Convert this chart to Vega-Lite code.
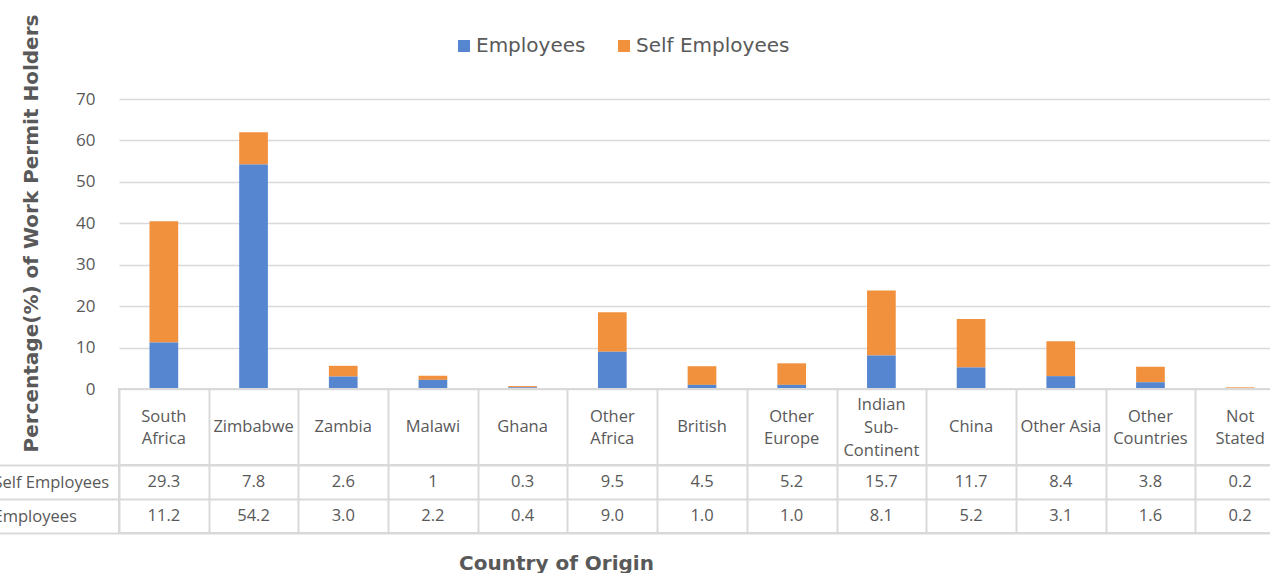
{
  "$schema": "https://vega.github.io/schema/vega-lite/v6.json",
  "padding": {"left": -8, "top": 14, "right": 0, "bottom": 0},
  "background": "white",
  "bounds": "flush",
  "spacing": 0,
  "config": {
    "font": "Open Sans",
    "view": {"stroke": "#d9d9d9", "strokeWidth": 2}
  },
  "datasets": {
    "values": [
      {"country": "South Africa", "series": "Self Employees", "value": 29.3, "label": "29.3"},
      {"country": "Zimbabwe", "series": "Self Employees", "value": 7.8, "label": "7.8"},
      {"country": "Zambia", "series": "Self Employees", "value": 2.6, "label": "2.6"},
      {"country": "Malawi", "series": "Self Employees", "value": 1, "label": "1"},
      {"country": "Ghana", "series": "Self Employees", "value": 0.3, "label": "0.3"},
      {"country": "Other Africa", "series": "Self Employees", "value": 9.5, "label": "9.5"},
      {"country": "British", "series": "Self Employees", "value": 4.5, "label": "4.5"},
      {"country": "Other Europe", "series": "Self Employees", "value": 5.2, "label": "5.2"},
      {"country": "Indian Sub-Continent", "series": "Self Employees", "value": 15.7, "label": "15.7"},
      {"country": "China", "series": "Self Employees", "value": 11.7, "label": "11.7"},
      {"country": "Other Asia", "series": "Self Employees", "value": 8.4, "label": "8.4"},
      {"country": "Other Countries", "series": "Self Employees", "value": 3.8, "label": "3.8"},
      {"country": "Not Stated", "series": "Self Employees", "value": 0.2, "label": "0.2"},
      {"country": "South Africa", "series": "Employees", "value": 11.2, "label": "11.2"},
      {"country": "Zimbabwe", "series": "Employees", "value": 54.2, "label": "54.2"},
      {"country": "Zambia", "series": "Employees", "value": 3.0, "label": "3.0"},
      {"country": "Malawi", "series": "Employees", "value": 2.2, "label": "2.2"},
      {"country": "Ghana", "series": "Employees", "value": 0.4, "label": "0.4"},
      {"country": "Other Africa", "series": "Employees", "value": 9.0, "label": "9.0"},
      {"country": "British", "series": "Employees", "value": 1.0, "label": "1.0"},
      {"country": "Other Europe", "series": "Employees", "value": 1.0, "label": "1.0"},
      {"country": "Indian Sub-Continent", "series": "Employees", "value": 8.1, "label": "8.1"},
      {"country": "China", "series": "Employees", "value": 5.2, "label": "5.2"},
      {"country": "Other Asia", "series": "Employees", "value": 3.1, "label": "3.1"},
      {"country": "Other Countries", "series": "Employees", "value": 1.6, "label": "1.6"},
      {"country": "Not Stated", "series": "Employees", "value": 0.2, "label": "0.2"}
    ],
    "header": [
      {"country": "South Africa", "header": "South\nAfrica"},
      {"country": "Zimbabwe", "header": "Zimbabwe"},
      {"country": "Zambia", "header": "Zambia"},
      {"country": "Malawi", "header": "Malawi"},
      {"country": "Ghana", "header": "Ghana"},
      {"country": "Other Africa", "header": "Other\nAfrica"},
      {"country": "British", "header": "British"},
      {"country": "Other Europe", "header": "Other\nEurope"},
      {"country": "Indian Sub-Continent", "header": "Indian\nSub-\nContinent"},
      {"country": "China", "header": "China"},
      {"country": "Other Asia", "header": "Other Asia"},
      {"country": "Other Countries", "header": "Other\nCountries"},
      {"country": "Not Stated", "header": "Not\nStated"}
    ]
  },
  "resolve": {"scale": {"x": "independent"}},
  "vconcat": [
    {
      "width": 1166,
      "height": 290,
      "view": {"stroke": null},
      "data": {"name": "values"},
      "mark": {"type": "bar"},
      "encoding": {
        "x": {
          "field": "country", "type": "nominal",
          "sort": ["South Africa", "Zimbabwe", "Zambia", "Malawi", "Ghana", "Other Africa", "British", "Other Europe", "Indian Sub-Continent", "China", "Other Asia", "Other Countries", "Not Stated"],
          "scale": {"paddingInner": 0.68, "paddingOuter": 0.34},
          "axis": null
        },
        "y": {
          "field": "value", "type": "quantitative", "stack": "zero",
          "scale": {"domain": [0, 70], "nice": false},
          "axis": {
            "values": [0, 10, 20, 30, 40, 50, 60, 70],
            "grid": true, "gridColor": "#d9d9d9", "gridWidth": 1.5,
            "domain": false, "ticks": false, "tickSize": 0,
            "labelPadding": 24, "labelFont": "Open Sans", "labelFontSize": 17, "labelColor": "#595959",
            "title": "Percentage(%) of Work Permit Holders",
            "titleFont": "DejaVu Sans", "titleFontSize": 20, "titleFontWeight": "bold", "titleColor": "#595959",
            "titleX": -88, "titleY": 134, "titleBaseline": "middle"
          }
        },
        "color": {
          "field": "series", "type": "nominal",
          "scale": {"domain": ["Employees", "Self Employees"], "range": ["#5586cf", "#f2913d"]},
          "legend": {
            "title": null, "orient": "none", "legendX": 335, "legendY": -63,
            "direction": "horizontal", "symbolType": "square", "symbolSize": 144,
            "symbolStrokeWidth": 0, "labelFont": "DejaVu Sans", "labelFontSize": 20,
            "labelColor": "#595959", "labelOffset": 2, "columnPadding": 28
          }
        },
        "order": {"field": "series", "type": "nominal", "sort": "ascending"}
      }
    },
    {
      "width": 1166,
      "height": 76,
      "data": {"name": "header"},
      "encoding": {
        "x": {
          "field": "country", "type": "nominal",
          "sort": ["South Africa", "Zimbabwe", "Zambia", "Malawi", "Ghana", "Other Africa", "British", "Other Europe", "Indian Sub-Continent", "China", "Other Asia", "Other Countries", "Not Stated"],
          "scale": {"paddingInner": 0, "paddingOuter": 0},
          "axis": {"labels": false, "ticks": false, "domain": false, "title": null, "grid": true, "tickBand": "extent", "gridColor": "#d9d9d9", "gridWidth": 2}
        },
        "text": {"field": "header"}
      },
      "layer": [
        {
          "transform": [{"filter": "length(split(datum.header, '\\n')) == 1"}],
          "mark": {"type": "text", "font": "Open Sans", "fontSize": 16.5, "lineBreak": "\n", "lineHeight": 22, "baseline": "middle", "fill": "#595959"}
        },
        {
          "transform": [{"filter": "length(split(datum.header, '\\n')) == 2"}],
          "mark": {"type": "text", "font": "Open Sans", "fontSize": 16.5, "lineBreak": "\n", "lineHeight": 22, "baseline": "middle", "dy": -10, "fill": "#595959"}
        },
        {
          "transform": [{"filter": "length(split(datum.header, '\\n')) == 3"}],
          "mark": {"type": "text", "font": "Open Sans", "fontSize": 16.5, "lineBreak": "\n", "lineHeight": 23, "baseline": "middle", "dy": -22, "fill": "#595959"}
        }
      ]
    },
    {
      "width": 1166,
      "height": 68,
      "data": {"name": "values"},
      "mark": {"type": "text", "font": "Open Sans", "fontSize": 16.5, "baseline": "middle", "fill": "#595959"},
      "encoding": {
        "x": {
          "field": "country", "type": "nominal",
          "sort": ["South Africa", "Zimbabwe", "Zambia", "Malawi", "Ghana", "Other Africa", "British", "Other Europe", "Indian Sub-Continent", "China", "Other Asia", "Other Countries", "Not Stated"],
          "scale": {"paddingInner": 0, "paddingOuter": 0},
          "axis": {
            "labels": false, "ticks": false, "domain": false, "grid": true, "tickBand": "extent",
            "gridColor": "#d9d9d9", "gridWidth": 2,
            "title": "Country of Origin", "titleFont": "DejaVu Sans", "titleFontSize": 20, "titleFontWeight": "bold",
            "titleColor": "#595959", "titleX": 437, "titleY": 36, "titleBaseline": "alphabetic"
          }
        },
        "y": {
          "field": "series", "type": "nominal",
          "sort": ["Self Employees", "Employees"],
          "scale": {"paddingInner": 0, "paddingOuter": 0},
          "axis": {
            "title": null, "domain": false, "ticks": true, "tickBand": "extent", "tickSize": 123,
            "tickColor": "#d9d9d9", "tickWidth": 2, "labelAlign": "left", "labelPadding": 3,
            "labelFont": "Open Sans", "labelFontSize": 16.5, "labelColor": "#595959",
            "grid": true, "gridColor": "#d9d9d9", "gridWidth": 2
          }
        },
        "text": {"field": "label"}
      }
    }
  ]
}
